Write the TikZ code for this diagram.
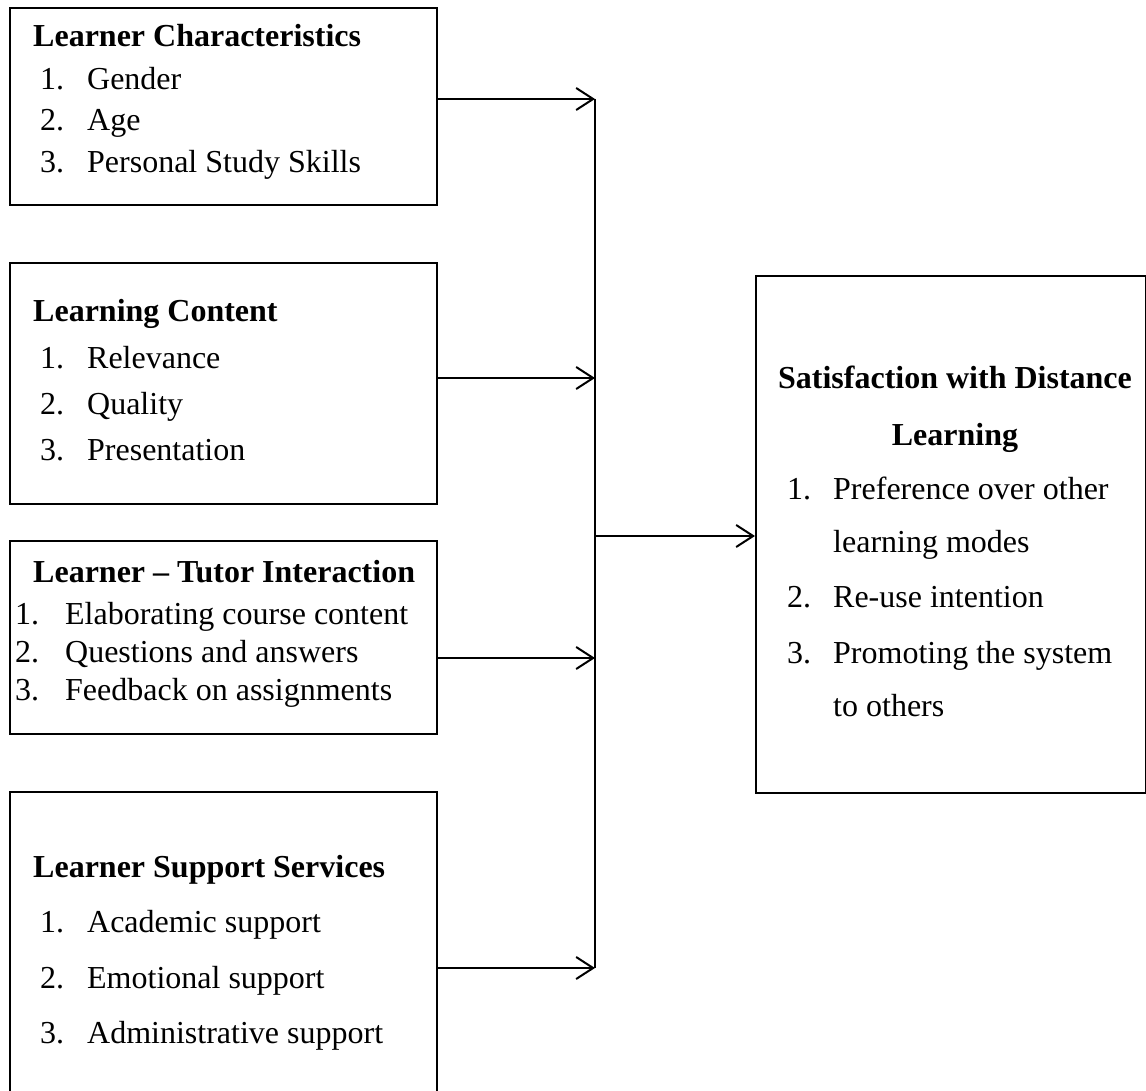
\documentclass[tikz,border=0pt]{standalone}
\usepackage{fontspec}
\setmainfont{Liberation Serif}
\usetikzlibrary{arrows.meta}
\begin{document}
\begin{tikzpicture}[x=1pt,y=-1pt,
  box/.style={draw, line width=2pt, anchor=north west, inner sep=0pt},
  txt/.style={anchor=base west, inner sep=0pt, font=\fontsize{32}{38}\selectfont},
  ttl/.style={txt, font=\fontsize{32}{38}\selectfont\bfseries},
  conn/.style={line width=2pt, -{Straight Barb[length=17pt,width=22pt]}},
  bus/.style={line width=2pt}]
\useasboundingbox (0,0) rectangle (1146,1091);
% boxes
\node[box, minimum width=427pt, minimum height=197pt] (box1) at (9,7) {};
\node[box, minimum width=427pt, minimum height=241pt] (box2) at (9,262) {};
\node[box, minimum width=427pt, minimum height=193pt] (box3) at (9,540) {};
\node[box, minimum width=427pt, minimum height=320pt] (box4) at (9,791) {};
\node[box, minimum width=390pt, minimum height=517pt] (box5) at (755,275) {};
% box 1 text
\node[ttl] (t1) at (33,47) {Learner Characteristics};
\node[txt] (t1a) at (40,90) {\makebox[47pt][l]{1.}Gender};
\node[txt] (t1b) at (40,131) {\makebox[47pt][l]{2.}Age};
\node[txt] (t1c) at (40,173) {\makebox[47pt][l]{3.}Personal Study Skills};
% box 2 text
\node[ttl] (t2) at (33,322) {Learning Content};
\node[txt] (t2a) at (40,368) {\makebox[47pt][l]{1.}Relevance};
\node[txt] (t2b) at (40,414) {\makebox[47pt][l]{2.}Quality};
\node[txt] (t2c) at (40,460) {\makebox[47pt][l]{3.}Presentation};
% box 3 text
\node[ttl] (t3) at (33,582) {Learner -- Tutor Interaction};
\node[txt] (t3a) at (15,624) {\makebox[50pt][l]{1.}Elaborating course content};
\node[txt] (t3b) at (15,662) {\makebox[50pt][l]{2.}Questions and answers};
\node[txt] (t3c) at (15,700) {\makebox[50pt][l]{3.}Feedback on assignments};
% box 4 text
\node[ttl] (t4) at (33,877) {Learner Support Services};
\node[txt] (t4a) at (40,932) {\makebox[47pt][l]{1.}Academic support};
\node[txt] (t4b) at (40,988) {\makebox[47pt][l]{2.}Emotional support};
\node[txt] (t4c) at (40,1043) {\makebox[47pt][l]{3.}Administrative support};
% box 5 text
\node[ttl, anchor=base] (t5) at (955,388) {Satisfaction with Distance};
\node[ttl, anchor=base] (t5b) at (955,445) {Learning};
\node[txt] (t5c) at (787,499) {\makebox[46pt][l]{1.}Preference over other};
\node[txt] (t5d) at (833,552) {learning modes};
\node[txt] (t5e) at (787,607) {\makebox[46pt][l]{2.}Re-use intention};
\node[txt] (t5f) at (787,663) {\makebox[46pt][l]{3.}Promoting the system};
\node[txt] (t5g) at (833,716) {to others};
% connectors
\coordinate (j1) at (595,99);
\coordinate (j2) at (595,378);
\coordinate (j3) at (595,658);
\coordinate (j4) at (595,968);
\coordinate (jm) at (595,536);
\draw[bus] (j1) -- (j4);
\draw[conn] (box1.east |- j1) -- (j1);
\draw[conn] (box2.east |- j2) -- (j2);
\draw[conn] (box3.east |- j3) -- (j3);
\draw[conn] (box4.east |- j4) -- (j4);
\draw[conn] (jm) -- (box5.west |- jm);
\end{tikzpicture}
\end{document}
